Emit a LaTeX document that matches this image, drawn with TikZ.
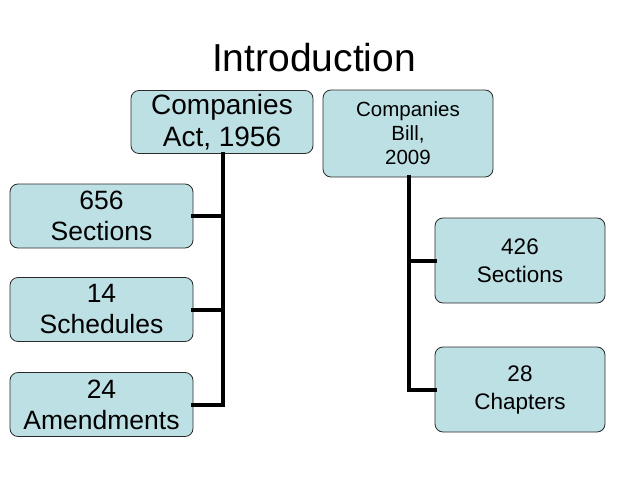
\documentclass[tikz,border=0pt]{standalone}
\usepackage{fontspec}
\setmainfont{Liberation Sans}
\usepackage{xcolor}
\usepackage{tikz}
\usetikzlibrary{positioning,calc}
\definecolor{BoxBlue}{HTML}{BDE0E4}
\definecolor{BoxEdge}{HTML}{2A2A2A}
\newcommand{\orgbox}[5]{%
  \node[draw=BoxEdge, line width=0.8pt, rounded corners=8pt, fill=BoxBlue,
        inner sep=0pt, align=center, minimum width=#3, minimum height=#4,#5] (#1) {#2};}

\begin{document}
\begin{tikzpicture}[x=1pt, y=-1pt, tree/.style={line width=4pt, line cap=rect}]
    \useasboundingbox (0,0) rectangle (638,479);
    \node[font=\fontsize{39}{44}\selectfont, anchor=base] (title) at (314,71) {Introduction};
    \orgbox{act}{Companies\\Act, 1956}{182pt}{63pt}{at={(222,122)}, font=\fontsize{28}{32}\selectfont}
    \orgbox{bill}{Companies\\Bill,\\2009}{170pt}{87pt}{at={(408,133.5)}, font=\fontsize{20.5}{24}\selectfont}
    \orgbox{sec}{656\\Sections}{183pt}{64pt}{at={(101.5,216)}, font=\fontsize{26.5}{31}\selectfont}
    \orgbox{sched}{14\\Schedules}{183pt}{64pt}{at={(101.5,309.5)}, font=\fontsize{26.5}{31}\selectfont}
    \orgbox{amend}{24\\Amendments}{183pt}{64pt}{at={(101.5,404.5)}, font=\fontsize{26.5}{31}\selectfont}
    \orgbox{billsec}{426\\Sections}{170pt}{85pt}{at={(520,260.5)}, font=\fontsize{22.5}{28}\selectfont}
    \orgbox{chap}{28\\Chapters}{170pt}{85pt}{at={(520,389.5)}, font=\fontsize{22.5}{28}\selectfont}
    % connectors of the two trees
    \draw[tree] ([xshift=1pt]act.south) |- (amend.east);
    \draw[tree] ([xshift=1pt]act.south |- sec.east) -- (sec.east);
    \draw[tree] ([xshift=1pt]act.south |- sched.east) -- (sched.east);
    \draw[tree] ([xshift=1pt]bill.south) |- (chap.west);
    \draw[tree] ([xshift=1pt]bill.south |- billsec.west) -- (billsec.west);
  \end{tikzpicture}
\end{document}
